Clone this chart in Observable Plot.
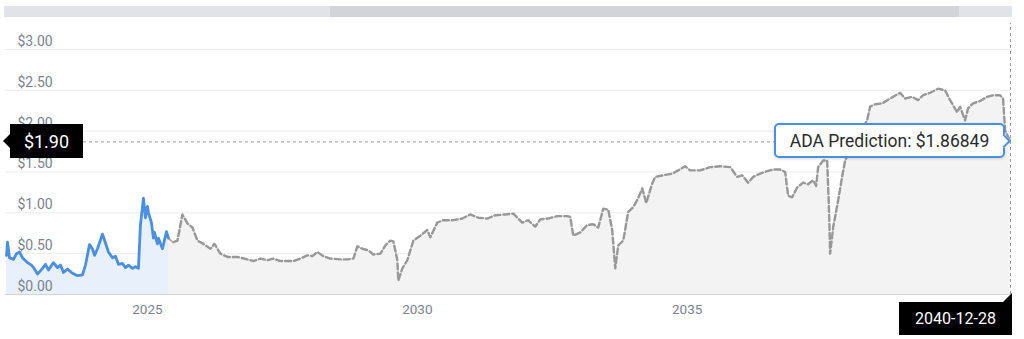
<!DOCTYPE html>
<html>
<head>
<meta charset="utf-8">
<script src="https://cdn.jsdelivr.net/npm/d3@7"></script>
<script src="https://cdn.jsdelivr.net/npm/@observablehq/plot@0.6"></script>
<style>
  html, body { margin: 0; padding: 0; background: #fff; }
  #wrap { position: relative; width: 1024px; height: 339px; overflow: hidden; font-family: Roboto, "Noto Sans", sans-serif; }
  #wrap svg { position: absolute; left: 0; top: 0; }
  .scroll-track { position: absolute; left: 4px; top: 6px; width: 1008px; height: 11px; background: #e2e3e8; }
  .scroll-thumb { position: absolute; left: 330px; top: 6px; width: 629px; height: 11px; background: #d3d4d9; }
  .ylab { position: absolute; background: #000; color: #fff; font-size: 18px; display: flex; align-items: center; justify-content: center; }
  .ylab-arrow { position: absolute; width: 0; height: 0; border-top: 7px solid transparent; border-bottom: 7px solid transparent; border-right: 7px solid #000; }
  .tip { position: absolute; box-sizing: border-box; background: #fff; border: 2px solid #4a90e2; border-radius: 5px; color: #2b2b2b; font-size: 17.5px; display: flex; align-items: center; justify-content: center; box-shadow: 0 1px 3px rgba(0,0,0,0.15); }
  .tip-arrow { position: absolute; width: 8px; height: 8px; background: #fff; border-top: 2px solid #4a90e2; border-right: 2px solid #4a90e2; transform: rotate(45deg); }
  .xlab { position: absolute; background: #000; color: #fff; font-size: 16px; display: flex; align-items: center; justify-content: center; }
  .xlab-arrow { position: absolute; width: 0; height: 0; border-left: 9px solid transparent; border-bottom: 9px solid #000; }
</style>
</head>
<body>
<div id="wrap">
  <div class="scroll-track"></div>
  <div class="scroll-thumb"></div>
</div>
<script>
// ---- data (decimal years, USD) ----
const histT = [2022.389, 2022.407, 2022.444, 2022.519, 2022.574, 2022.630, 2022.685, 2022.778, 2022.852, 2022.889,
  2022.963, 2023.056, 2023.111, 2023.167, 2023.259, 2023.333, 2023.389, 2023.444, 2023.519, 2023.611,
  2023.704, 2023.796, 2023.852, 2023.926, 2023.981, 2024.019, 2024.074, 2024.167, 2024.222, 2024.278,
  2024.352, 2024.407, 2024.463, 2024.537, 2024.593, 2024.648, 2024.722, 2024.778, 2024.833, 2024.870,
  2024.926, 2024.963, 2025.000, 2025.019, 2025.074, 2025.111, 2025.130, 2025.185, 2025.204, 2025.278,
  2025.352, 2025.389];
const histV = [0.48, 0.64, 0.45, 0.43, 0.50, 0.52, 0.45, 0.39, 0.36, 0.33,
  0.25, 0.32, 0.37, 0.30, 0.39, 0.33, 0.36, 0.27, 0.31, 0.26,
  0.23, 0.24, 0.36, 0.61, 0.56, 0.48, 0.56, 0.74, 0.63, 0.52,
  0.45, 0.47, 0.37, 0.38, 0.33, 0.36, 0.32, 0.34, 0.32, 0.85,
  1.18, 0.94, 1.08, 1.00, 0.88, 0.69, 0.76, 0.62, 0.69, 0.56,
  0.77, 0.69];

const bridgeT = [2025.389, 2025.435, 2025.481];
const bridgeV = [0.69, 0.66, 0.64];

const predT = [2025.481, 2025.556, 2025.648, 2025.741, 2025.833, 2025.926, 2026.037, 2026.167, 2026.241, 2026.352,
  2026.481, 2026.667, 2026.852, 2026.963, 2027.093, 2027.222, 2027.333, 2027.463, 2027.593, 2027.704,
  2027.833, 2027.963, 2028.056, 2028.148, 2028.259, 2028.389, 2028.574, 2028.704, 2028.815, 2028.889,
  2028.981, 2029.093, 2029.185, 2029.315, 2029.407, 2029.500, 2029.556, 2029.630, 2029.648, 2029.722,
  2029.815, 2029.926, 2030.056, 2030.185, 2030.241, 2030.370, 2030.481, 2030.667, 2030.833, 2030.981,
  2031.130, 2031.296, 2031.444, 2031.630, 2031.778, 2031.944, 2032.056, 2032.185, 2032.278, 2032.426,
  2032.593, 2032.778, 2032.833, 2032.889, 2033.019, 2033.148, 2033.259, 2033.352, 2033.444, 2033.537,
  2033.611, 2033.667, 2033.722, 2033.815, 2033.907, 2034.000, 2034.093, 2034.167, 2034.241, 2034.352,
  2034.407, 2034.556, 2034.722, 2034.833, 2034.963, 2035.056, 2035.241, 2035.426, 2035.611, 2035.796,
  2035.926, 2036.019, 2036.130, 2036.222, 2036.352, 2036.481, 2036.593, 2036.722, 2036.815, 2036.870,
  2036.944, 2037.037, 2037.148, 2037.241, 2037.333, 2037.389, 2037.426, 2037.519, 2037.593, 2037.630,
  2037.648, 2037.704, 2037.796, 2037.870, 2037.926, 2038.019, 2038.167, 2038.333, 2038.389, 2038.481,
  2038.611, 2038.759, 2038.944, 2039.037, 2039.167, 2039.278, 2039.370, 2039.500, 2039.648, 2039.778,
  2039.870, 2039.926, 2040.000, 2040.056, 2040.148, 2040.204, 2040.296, 2040.426, 2040.556, 2040.667,
  2040.796, 2040.852, 2040.889, 2040.990];
const predV = [0.64, 0.66, 0.98, 0.87, 0.82, 0.66, 0.62, 0.56, 0.62, 0.50,
  0.46, 0.46, 0.43, 0.41, 0.44, 0.42, 0.44, 0.41, 0.41, 0.41,
  0.44, 0.48, 0.47, 0.52, 0.47, 0.44, 0.43, 0.43, 0.44, 0.59,
  0.56, 0.54, 0.49, 0.50, 0.60, 0.66, 0.65, 0.42, 0.17, 0.32,
  0.42, 0.66, 0.72, 0.79, 0.70, 0.88, 0.91, 0.91, 0.93, 0.98,
  0.94, 0.93, 0.97, 0.98, 0.99, 0.88, 0.91, 0.83, 0.92, 0.93,
  0.96, 0.96, 0.95, 0.72, 0.76, 0.85, 0.86, 0.82, 1.05, 1.04,
  0.79, 0.32, 0.60, 0.66, 1.01, 1.07, 1.18, 1.30, 1.12, 1.36,
  1.44, 1.46, 1.48, 1.52, 1.57, 1.52, 1.52, 1.56, 1.57, 1.56,
  1.44, 1.46, 1.37, 1.44, 1.48, 1.51, 1.53, 1.53, 1.50, 1.21,
  1.19, 1.31, 1.37, 1.35, 1.40, 1.33, 1.56, 1.64, 1.64, 0.99,
  0.50, 0.82, 1.15, 1.44, 1.64, 1.77, 1.95, 2.13, 2.30, 2.33,
  2.34, 2.40, 2.47, 2.40, 2.42, 2.38, 2.44, 2.47, 2.52, 2.50,
  2.38, 2.32, 2.23, 2.30, 2.13, 2.28, 2.34, 2.37, 2.42, 2.44,
  2.44, 2.40, 2.01, 1.87];

const yTicks = [0, 0.5, 1, 1.5, 2, 2.5, 3];
const yTickLabels = ["$0.00", "$0.50", "$1.00", "$1.50", "$2.00", "$2.50", "$3.00"];
const xTicks = [2025, 2030, 2035];
const xTickLabels = ["2025", "2030", "2035"];
const xDomain = [2022.37, 2040.99];

const crossT = 2040.99;
const crossValue = 1.86849;
const crossYLabel = "$1.90";
const crossXLabel = "2040-12-28";
const tooltipLabel = "ADA Prediction: $1.86849";

// ---- build ----
const hist = histT.map((t, i) => ({t, v: histV[i]}));
const bridge = bridgeT.map((t, i) => ({t, v: bridgeV[i]}));
const pred = predT.map((t, i) => ({t, v: predV[i]}));
const yTickData = yTicks.map((v, i) => ({v, label: yTickLabels[i]}));
const xTickData = xTicks.map((t, i) => ({t, label: xTickLabels[i]}));

const chart = Plot.plot({
  width: 1024,
  height: 339,
  marginLeft: 5,
  marginRight: 14,
  marginTop: 49,
  marginBottom: 45,
  x: {domain: xDomain, axis: null},
  y: {domain: [0, 3], axis: null},
  style: {fontFamily: "Roboto, 'Noto Sans', sans-serif", background: "transparent", overflow: "visible"},
  marks: [
    Plot.ruleY(yTicks.filter(d => d > 0), {stroke: "#ececec", strokeWidth: 1}),
    Plot.areaY(pred, {x: "t", y: "v", fill: "#f3f3f3"}),
    Plot.areaY(bridge, {x: "t", y: "v", fill: "#f3f3f3"}),
    Plot.areaY(hist, {x: "t", y: "v", fill: "#e8f0fc"}),
    Plot.ruleY([0], {stroke: "#d4d4d4", strokeWidth: 1}),
    Plot.ruleY([crossValue], {stroke: "#9a9a9a", strokeWidth: 1, strokeDasharray: "3,3"}),
    Plot.ruleX([crossT], {y1: 0, y2: 3.32, stroke: "#9a9a9a", strokeWidth: 1, strokeDasharray: "3,3"}),
    Plot.lineY(pred, {x: "t", y: "v", stroke: "#989898", strokeWidth: 2.4, strokeDasharray: "6,3"}),
    Plot.lineY(bridge, {x: "t", y: "v", stroke: "#c99a80", strokeWidth: 1.5}),
    Plot.lineY(hist, {x: "t", y: "v", stroke: "#4a8fe2", strokeWidth: 2.8, strokeLinejoin: "round"}),
    Plot.text(yTickData, {y: "v", text: "label", frameAnchor: "left", dx: 12, dy: -8, textAnchor: "start", fill: "#7b8291", fontSize: 14}),
    Plot.text(xTickData, {x: "t", text: "label", frameAnchor: "bottom", dy: 19, fill: "#7b8291", fontSize: 13.5})
  ]
});

const wrap = document.getElementById("wrap");
wrap.insertBefore(chart, wrap.firstChild);

const cx = chart.scale("x").apply(crossT);
const cy = chart.scale("y").apply(crossValue);

// y crosshair label (left)
const yl = document.createElement("div");
yl.className = "ylab";
yl.style.left = "10px"; yl.style.top = (cy - 17) + "px"; yl.style.width = "73px"; yl.style.height = "34px";
yl.textContent = crossYLabel;
wrap.appendChild(yl);
const yla = document.createElement("div");
yla.className = "ylab-arrow";
yla.style.left = "3px"; yla.style.top = (cy - 7) + "px";
wrap.appendChild(yla);

// tooltip
const tip = document.createElement("div");
tip.className = "tip";
tip.style.left = (cx - 236) + "px"; tip.style.top = (cy - 18) + "px"; tip.style.width = "231px"; tip.style.height = "35px";
tip.textContent = tooltipLabel;
wrap.appendChild(tip);
const ta = document.createElement("div");
ta.className = "tip-arrow";
ta.style.left = (cx - 11) + "px"; ta.style.top = (cy - 5) + "px";
wrap.appendChild(ta);

// x crosshair label (bottom)
const xl = document.createElement("div");
xl.className = "xlab";
xl.style.left = (cx - 111) + "px"; xl.style.top = "302px"; xl.style.width = "113px"; xl.style.height = "33px";
xl.textContent = crossXLabel;
wrap.appendChild(xl);
const xla = document.createElement("div");
xla.className = "xlab-arrow";
xla.style.left = (cx - 7) + "px"; xla.style.top = "293px";
wrap.appendChild(xla);
</script>
</body>
</html>
